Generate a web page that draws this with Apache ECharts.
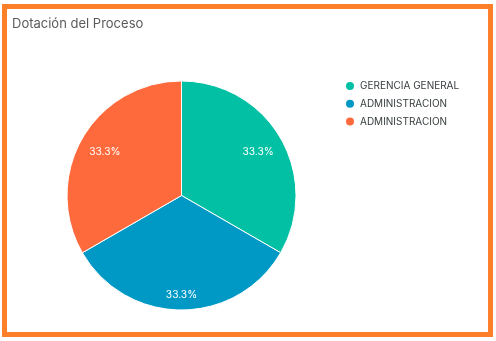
<!DOCTYPE html>
<html>
<head>
<meta charset="utf-8">
<script src="https://cdn.jsdelivr.net/npm/echarts@6/dist/echarts.min.js"></script>
<style>
  html, body { margin: 0; padding: 0; background: #fff; }
  #chart { position: absolute; left: 0; top: 0; width: 496px; height: 341px; }
  #frame { position: absolute; left: 2px; top: 4px; width: 491px; height: 333px; box-sizing: border-box; border: 5px solid #fd7f27; pointer-events: none; }
</style>
</head>
<body>
<div id="chart"></div>
<div id="frame"></div>
<script>
const titleText = 'Dotación del Proceso';
const categories = ['GERENCIA GENERAL', 'ADMINISTRACION', 'ADMINISTRACION '];
const values = [1, 1, 1];
const colors = ['#02c0a3', '#0099c6', '#ff6a3c'];

const pieData = categories.map((name, i) => ({ name: name, value: values[i] }));
const total = values.reduce((a, b) => a + b, 0);

// label overlay: the bottom label sits a little lower in the reference
const labelData = pieData.map((d, i) => {
  const item = { name: d.name, value: d.value };
  if (i === 1) item.label = { rich: { s: { height: 22, fontSize: 1 }, t: { fontFamily: 'Inter', fontSize: 10.2, color: '#ffffff' } } };
  return item;
});

const chart = echarts.init(document.getElementById('chart'), null, { renderer: 'canvas' });
chart.setOption({
  animation: false,
  color: colors,
  title: {
    text: titleText,
    left: 12,
    top: 17,
    padding: 0,
    textStyle: { fontFamily: 'Inter', fontSize: 13, fontWeight: 'normal', color: '#5b5b5b', lineHeight: 14 }
  },
  legend: {
    orient: 'vertical',
    left: 344,
    top: 80,
    padding: 0,
    icon: 'circle',
    itemWidth: 10,
    itemHeight: 10,
    itemGap: 5.75,
    data: categories,
    formatter: n => n.trim(),
    textStyle: { fontFamily: 'Inter', fontSize: 10, color: '#373d3f', lineHeight: 12 }
  },
  series: [
    {
      type: 'pie',
      center: [181.5, 195.5],
      radius: [0, 114.5],
      startAngle: 90,
      clockwise: true,
      data: pieData,
      label: { show: false },
      labelLine: { show: false },
      itemStyle: { borderColor: '#ffffff', borderWidth: 1 },
      emphasis: { disabled: true }
    },
    {
      type: 'pie',
      center: [181.5, 195.5],
      radius: [56.5, 114.5],
      startAngle: 90,
      clockwise: true,
      silent: true,
      legendHoverLink: false,
      data: labelData,
      itemStyle: { color: 'rgba(0,0,0,0)' },
      label: {
        show: true,
        position: 'inside',
        formatter: p => '{s|}\n{t|' + (p.value / total * 100).toFixed(1) + '%}',
        rich: {
          s: { height: 1, fontSize: 1 },
          t: { fontFamily: 'Inter', fontSize: 10.2, color: '#ffffff' }
        }
      },
      labelLine: { show: false },
      emphasis: { disabled: true }
    }
  ]
});
</script>
</body>
</html>
